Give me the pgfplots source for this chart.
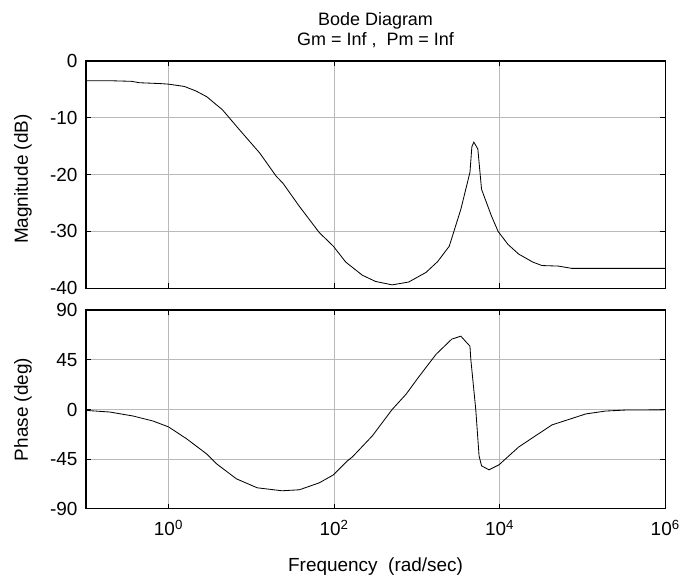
\documentclass[border=0pt]{standalone}
\usepackage{fontspec}
\setmainfont{Liberation Sans}
\usepackage{pgfplots}
\pgfplotsset{compat=1.18}
\begin{document}
\fontsize{10.8pt}{13pt}\selectfont
\begin{tikzpicture}
\path (-51.6pt,-43.8pt) rectangle (360pt,306pt);
\begin{axis}[at={(0,132.6pt)}, anchor=south west, height=136.8pt,
  xmode=log, xmin=0.1, xmax=1e6,
  width=348.6pt, scale only axis,
  xtick={1,100,10000,1000000}, minor xtick={},
  grid=major, major grid style={gray!55, line width=0.5pt},
  axis line style={line width=0.9pt},
  tick style={black, line width=0.6pt},
  tick align=inside, major tick length=3pt,
  ticklabel style={font=\fontsize{11.4pt}{13pt}\selectfont},
  yticklabel style={xshift=-1.2pt},
  ymin=-40, ymax=0, ytick={-40,-30,-20,-10,0}, yticklabels={-40,-30,-20,-10,0},
  xticklabels={},
  ylabel={Magnitude (dB)},
  ylabel style={at={(axis description cs:0,0.48)}, anchor=base, inner sep=0pt, yshift=34.8pt, font=\fontsize{11.4pt}{13pt}\selectfont},
  title={Bode Diagram\\Gm = Inf ,\ \ Pm = Inf},
  title style={align=center, at={(axis description cs:0.5,1)}, anchor=south, inner sep=0pt, yshift=1.8pt, font=\fontsize{10.8pt}{12pt}\selectfont},
]
\addplot[black, line width=0.5pt] coordinates {
(0.1,-3.5) (0.1995,-3.5) (0.3548,-3.6) (0.4467,-3.85) (0.7943,-4.0) (1,-4.1)
(1.549,-4.5) (2.138,-5.3) (2.884,-6.3) (4.467,-8.6) (7.161,-12.1) (12.59,-16.2)
(19.95,-20.3) (23.99,-21.5) (38.02,-25.6) (66.07,-30.2) (97.72,-32.6) (138.0,-35.4)
(218.8,-37.7) (316.2,-38.8) (501.2,-39.4) (794.3,-38.9) (1288,-37.2) (1778,-35.3)
(2455,-32.6) (3388,-26.1) (4365,-19.6) (4603,-15.1) (4864,-14.3) (5433,-15.5)
(6026,-22.6) (7943,-27.3) (9550,-30.0) (12590,-32.3) (16980,-34.0) (25120,-35.4)
(32360,-36.0) (51290,-36.1) (74130,-36.5) (1000000,-36.5)
};
\end{axis}
\begin{axis}[at={(0,0)}, anchor=south west, height=119.4pt,
  xmode=log, xmin=0.1, xmax=1e6,
  width=348.6pt, scale only axis,
  xtick={1,100,10000,1000000}, minor xtick={},
  grid=major, major grid style={gray!55, line width=0.5pt},
  axis line style={line width=0.9pt},
  tick style={black, line width=0.6pt},
  tick align=inside, major tick length=3pt,
  ticklabel style={font=\fontsize{11.4pt}{13pt}\selectfont},
  yticklabel style={xshift=-1.2pt},
  xticklabel style={yshift=-3pt},
  ymin=-90, ymax=90, ytick={-90,-45,0,45,90}, yticklabels={-90,-45,0,45,90},
  xticklabels={10\textsuperscript{0},10\textsuperscript{2},10\textsuperscript{4},10\textsuperscript{6}},
  ylabel={Phase (deg)},
  ylabel style={at={(axis description cs:0,0.5)}, anchor=base, inner sep=0pt, yshift=34.8pt, font=\fontsize{11.4pt}{13pt}\selectfont},
  xlabel={Frequency\ \ (rad/sec)},
  xlabel style={at={(axis description cs:0.5,0)}, anchor=base, inner sep=0pt, yshift=-37.8pt, font=\fontsize{11.4pt}{13pt}\selectfont},
]
\addplot[black, line width=0.5pt] coordinates {
(0.1,-0.8) (0.195,-2.3) (0.3715,-5.9) (0.6457,-10.4) (1,-15.8) (1.660,-26.7)
(2.884,-40.3) (3.802,-49.3) (6.607,-62.9) (11.75,-71.0) (23.44,-73.7) (38.02,-72.8)
(66.07,-66.5) (97.72,-59.3) (144.5,-46.6) (166.0,-43) (288.4,-24) (501.2,0)
(741.3,14) (1047,29.4) (1698,50) (2630,63.8) (3388,66.5) (4365,57.4) (4467,45.7)
(5129,0) (5623,-42.1) (6026,-51.1) (7413,-54.7) (9772,-50.2) (16980,-33.9)
(42660,-14) (109600,-4) (190500,-1.4) (331100,-0.5) (1000000,-0.3)
};
\end{axis}
\end{tikzpicture}
\end{document}
